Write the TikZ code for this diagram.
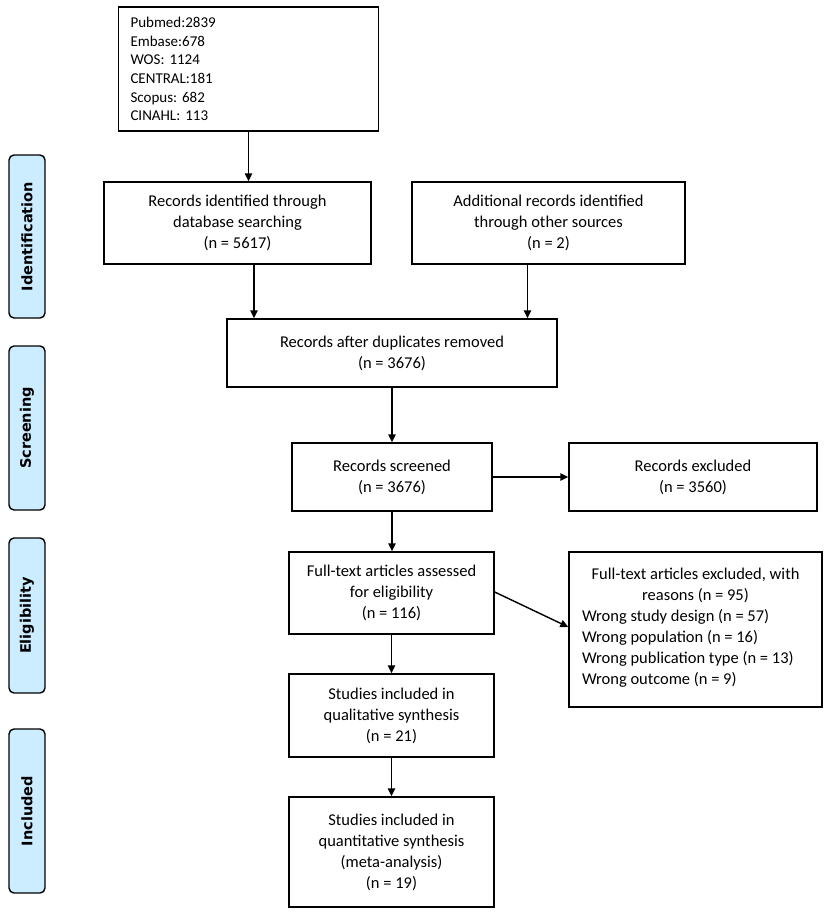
\documentclass[tikz,border=0pt]{standalone}
\usepackage{fontspec}
\setmainfont{Carlito}
\newfontfamily\labfont{DejaVu Sans}
\usetikzlibrary{arrows.meta,calc}
\definecolor{phase}{RGB}{204,236,255}
\frenchspacing
\begin{document}
\begin{tikzpicture}[x=1pt,y=-1pt,
  box/.style={draw=black,line width=1.4pt,inner sep=0pt,align=center,
    font=\fontsize{16.5}{21}\selectfont},
  phasebox/.style={draw=black,line width=1.4pt,fill=phase,rounded corners=5pt,
    inner sep=0pt,rotate=90,
    font=\labfont\bfseries\fontsize{14.5}{17}\selectfont},
  arr/.style={line width=1.4pt,-{Triangle[length=8pt,width=7.5pt]}}]
\useasboundingbox (0,0) rectangle (829,916);
% phase labels
\node[phasebox,minimum height=36pt,minimum width=163pt] (id) at (27,236.5) {Identification};
\node[phasebox,minimum height=36pt,minimum width=164pt] (sc) at (27,428) {Screening};
\node[phasebox,minimum height=36pt,minimum width=155pt] (el) at (27,615.5) {Eligibility};
\node[phasebox,minimum height=36pt,minimum width=164pt] (in) at (27,811) {Included};
% boxes
\node[box,minimum width=260pt,minimum height=124pt,text width=236pt,align=left,
  font=\fontsize{15}{18.6}\selectfont] (top) at (248.5,69)
  {Pubmed:2839\\Embase:678\\WOS: 1124\\CENTRAL:181\\Scopus: 682\\CINAHL: 113};
\node[box,minimum width=267pt,minimum height=82pt] (rid) at (237.5,223)
  {Records identified through\\database searching\\(n = 5617)};
\node[box,minimum width=273pt,minimum height=82pt] (add) at (548.5,223)
  {Additional records identified\\through other sources\\(n = 2)};
\node[box,minimum width=330pt,minimum height=68pt] (dup) at (392,353)
  {Records after duplicates removed\\(n = 3676)};
\node[box,minimum width=200pt,minimum height=68pt] (scr) at (392,477)
  {Records screened\\(n = 3676)};
\node[box,minimum width=248pt,minimum height=68pt] (exc) at (693,477)
  {Records excluded\\(n = 3560)};
\node[box,minimum width=205pt,minimum height=82pt] (ft) at (391.5,593)
  {Full-text articles assessed\\for eligibility\\(n = 116)};
\node[box,minimum width=253pt,minimum height=155pt] (ftex) at (695.5,629.5)
  {Full-text articles excluded, with\\reasons (n = 95)\\
   \makebox[0pt][l]{\hspace*{-113.5pt}Wrong study design (n = 57)}\\
   \makebox[0pt][l]{\hspace*{-113.5pt}Wrong population (n = 16)}\\
   \makebox[0pt][l]{\hspace*{-113.5pt}Wrong publication type (n = 13)}\\
   \makebox[0pt][l]{\hspace*{-113.5pt}Wrong outcome (n = 9)}\\[-14pt]};
\node[box,minimum width=205pt,minimum height=83pt] (qual) at (391.5,715.5)
  {Studies included in\\qualitative synthesis\\(n = 21)};
\node[box,minimum width=205pt,minimum height=110pt] (quan) at (391.5,852)
  {Studies included in\\quantitative synthesis\\(meta-analysis)\\(n = 19)};
% connectors
\draw[arr] (top.south) -- (top.south |- rid.north);
\coordinate (ridout) at ($(rid.south)+(16.5,0)$);
\draw[arr] (ridout) -- (ridout |- dup.north);
\coordinate (addout) at ($(add.south)+(-21,0)$);
\draw[arr] (addout) -- (addout |- dup.north);
\draw[arr] (scr.north |- dup.south) -- (scr.north);
\draw[arr] (scr.east) -- (exc.west);
\draw[arr] (scr.south) -- (scr.south |- ft.north);
\coordinate (ftexin) at ($(ftex.west)+(0,-2.5)$);
\draw[arr] ($(ft.east)+(0,-1)$) -- (ftexin);
\draw[arr] (ft.south) -- (ft.south |- qual.north);
\draw[arr] (qual.south) -- (qual.south |- quan.north);
\end{tikzpicture}
\end{document}
